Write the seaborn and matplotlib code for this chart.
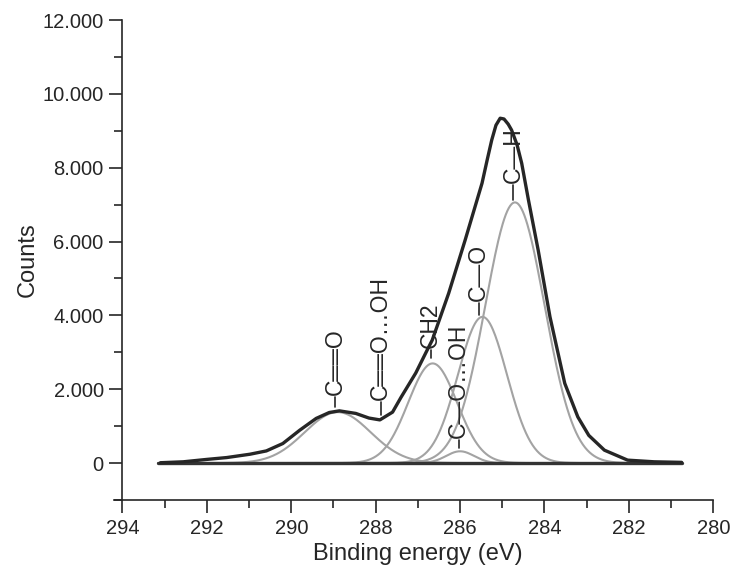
import numpy as np
import pandas as pd
import matplotlib
matplotlib.use("Agg")
import matplotlib.pyplot as plt
from matplotlib.ticker import MultipleLocator, FuncFormatter
import seaborn as sns

# =====================================================
# DATA
# =====================================================

# measured C1s spectrum (envelope), binding energy in eV / counts
env_energy = [293.10, 292.56, 292.00, 291.53, 290.98, 290.59, 290.20, 289.80,
              289.41, 289.10, 288.86, 288.47, 288.16, 287.90, 287.60, 287.40,
              287.05, 286.78, 286.66, 286.27, 285.88, 285.48, 285.36, 285.25,
              285.15, 285.05, 284.96, 284.86, 284.78, 284.65, 284.54, 284.38,
              284.15, 283.87, 283.52, 283.21, 282.95, 282.58, 282.03, 281.40,
              280.75]
env_counts = [10, 35, 100, 150, 240, 330, 530, 890,
              1210, 1370, 1415, 1345, 1220, 1170, 1380, 1780,
              2440, 3060, 3330, 4600, 6040, 7580, 8200, 8750,
              9150, 9340, 9320, 9180, 9020, 8620, 8120, 7125,
              5770, 3960, 2160, 1250, 750, 350, 80, 35,
              20]

# fitted components: centre (eV), height (counts), sigma (eV)
comp_names = ["C=O", "CH2", "C-O...OH", "C-O", "C-H"]
comp_center = [288.90, 286.65, 286.00, 285.47, 284.70]
comp_height = [1380, 2700, 320, 3960, 7060]
comp_sigma = [0.78, 0.58, 0.33, 0.58, 0.70]

# baseline
base_energy = [293.15, 280.75]
base_counts = [0, 0]

# peak labels
label_text = ["C\u2550\u2550O", "C\u2550\u2550O\u2026OH", "CH2",
              "C\u2014O\u2026OH", "C\u2014O", "C\u2014H"]
label_x = [288.96, 287.88, 286.70, 286.03, 285.56, 284.74]
label_lo = [1525, 1300, 2845, 406, 4010, 7125]
label_hi = [1796, 1660, 3061, 623, 4334, 7530]

# =====================================================
# STYLE
# =====================================================

sns.set_style("ticks")
plt.rcParams["font.family"] = ["Liberation Sans", "DejaVu Sans"]

dark = "#262626"
light = "#a3a3a3"

fig, ax = plt.subplots(figsize=(7.31, 5.75), dpi=100)
fig.subplots_adjust(left=0.1675, right=0.9758, top=0.9652, bottom=0.1304)

# =====================================================
# COMPONENTS
# =====================================================

grid = np.linspace(293.15, 280.75, 700)
rows = []
for name, c, h, s in zip(comp_names, comp_center, comp_height, comp_sigma):
    for e in grid:
        rows.append((name, e, h * np.exp(-0.5 * ((e - c) / s) ** 2)))
comp_df = pd.DataFrame(rows, columns=["component", "energy", "counts"])

sns.lineplot(data=comp_df, x="energy", y="counts", hue="component",
             palette=[light] * len(comp_names), linewidth=1.5,
             legend=False, ax=ax, sort=False)

# baseline and measured envelope
sns.lineplot(x=base_energy, y=base_counts, color="#333333",
             linewidth=2.4, ax=ax)
sns.lineplot(x=env_energy, y=env_counts, color=dark, linewidth=2.4,
             sort=False, ax=ax)

# =====================================================
# LABELS
# =====================================================

for txt, x, lo, hi in zip(label_text, label_x, label_lo, label_hi):
    ax.plot([x, x], [lo, hi], color=dark, linewidth=1.2)
    ax.annotate(txt, xy=(x, hi), xytext=(0, 1.5), textcoords="offset points",
                rotation=90, ha="center", va="bottom", fontsize=16.5,
                color=dark)

# =====================================================
# AXES
# =====================================================

ax.set_xlim(294, 280)
ax.set_ylim(-1000, 12000)

ax.xaxis.set_major_locator(MultipleLocator(2))
ax.xaxis.set_minor_locator(MultipleLocator(1))
ax.yaxis.set_minor_locator(MultipleLocator(1000))
ax.set_yticks(np.arange(0, 12001, 2000))
ax.yaxis.set_major_formatter(
    FuncFormatter(lambda v, p: f"{v:,.0f}".replace(",", ".")))

ax.tick_params(which="major", length=9.5, width=1.2, color=dark,
               labelsize=14.5, labelcolor=dark, pad=4)
ax.tick_params(which="minor", length=6, width=1.2, color=dark)

sns.despine(ax=ax)
for side in ["left", "bottom"]:
    ax.spines[side].set_color(dark)
    ax.spines[side].set_linewidth(1.2)
ax.spines["bottom"].set_bounds(294.19, 280)

ax.set_xlabel("Binding energy (eV)", fontsize=17, color=dark, labelpad=4)
ax.set_ylabel("Counts", fontsize=17, color=dark, labelpad=3)

plt.savefig("out.png", dpi=100)
plt.close()
